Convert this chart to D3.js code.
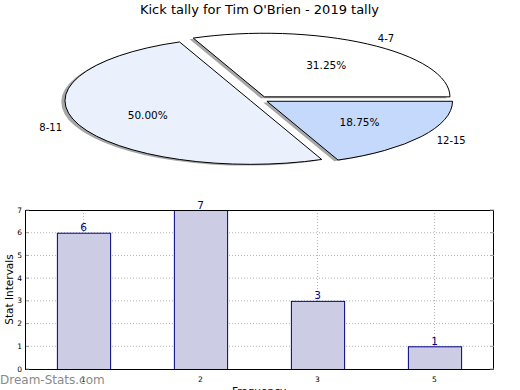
<!DOCTYPE html>
<html>
<head>
<meta charset="utf-8">
<script src="https://cdn.jsdelivr.net/npm/d3@7"></script>
<style>
  body { margin: 0; background: #fff; }
  svg { display: block; font-family: 'DejaVu Sans', sans-serif; }
</style>
</head>
<body>
<svg id="chart" width="520" height="390"></svg>
<script>
const title = "Kick tally for Tim O'Brien - 2019 tally";

// pie data
const pieLabels = ['4-7', '8-11', '12-15'];
const pieValues = [5, 8, 3];
const pieColors = ['#ffffff', '#eaf1fd', '#c5d9fd'];

// bar data
const barCategories = ['1', '2', '3', '5'];
const barValues = [6, 7, 3, 1];
const yTicks = [0, 1, 2, 3, 4, 5, 6, 7];

const svg = d3.select('#chart');

svg.append('text')
  .attr('x', 259.5)
  .attr('y', 14)
  .attr('text-anchor', 'middle')
  .attr('font-size', '13px')
  .attr('fill', '#000')
  .text(title);

// ---- pie (ellipse, exploded, with shadow) ----
const pieC = { x: 259.2, y: 99.5, rx: 185.6, ry: 63.6 };
const explode = 0.05;

const pie = d3.pie()
  .sort(null)
  .startAngle(Math.PI / 2)
  .endAngle(Math.PI / 2 - 2 * Math.PI);
const arcs = pie(pieValues);
const unitArc = d3.arc().innerRadius(0).outerRadius(1);
const total = d3.sum(pieValues);

const centerOf = (a) => {
  const m = (a.startAngle + a.endAngle) / 2;
  return {
    m,
    x: pieC.x + explode * pieC.rx * Math.sin(m),
    y: pieC.y - explode * pieC.ry * Math.cos(m),
  };
};

const pieG = svg.append('g');

// shadows first, under every wedge
arcs.forEach((a) => {
  const c = centerOf(a);
  pieG.append('path')
    .attr('d', unitArc(a))
    .attr('transform', `translate(${c.x - 0.02 * pieC.rx},${c.y + 0.02 * pieC.ry}) scale(${pieC.rx},${pieC.ry})`)
    .attr('fill', '#4d4d4d')
    .attr('fill-opacity', 0.5)
    .attr('stroke', 'none');
});

arcs.forEach((a, i) => {
  const c = centerOf(a);
  pieG.append('path')
    .attr('d', unitArc(a))
    .attr('transform', `translate(${c.x},${c.y}) scale(${pieC.rx},${pieC.ry})`)
    .attr('fill', pieColors[i])
    .attr('stroke', '#000')
    .attr('stroke-width', 1)
    .attr('vector-effect', 'non-scaling-stroke')
    .attr('stroke-linejoin', 'miter');
});

arcs.forEach((a, i) => {
  const c = centerOf(a);
  const sx = Math.sin(c.m);
  const sy = -Math.cos(c.m);
  pieG.append('text')
    .attr('x', c.x + 1.1 * pieC.rx * sx)
    .attr('y', c.y + 1.1 * pieC.ry * sy)
    .attr('dy', '0.35em')
    .attr('text-anchor', sx > 0 ? 'start' : 'end')
    .attr('font-size', '10px')
    .text(pieLabels[i]);
  pieG.append('text')
    .attr('x', c.x + 0.6 * pieC.rx * sx)
    .attr('y', c.y + 0.6 * pieC.ry * sy)
    .attr('dy', '0.35em')
    .attr('text-anchor', 'middle')
    .attr('font-size', '10.5px')
    .text(`${(pieValues[i] / total * 100).toFixed(2)}%`);
});

// ---- bar chart ----
const plot = { left: 25, right: 493, top: 210, bottom: 369 };

const x = d3.scaleBand()
  .domain(barCategories)
  .range([plot.left, plot.right])
  .paddingInner(0.545)
  .paddingOuter(0.2725);
const y = d3.scaleLinear()
  .domain([0, 7])
  .range([plot.bottom, plot.top]);

const g = svg.append('g');

// grid
g.selectAll('line.hgrid')
  .data(yTicks.slice(1, -1))
  .join('line')
  .attr('x1', plot.left).attr('x2', plot.right)
  .attr('y1', d => y(d)).attr('y2', d => y(d))
  .attr('stroke', '#b5b5b5')
  .attr('stroke-width', 1)
  .attr('stroke-dasharray', '1,2');
g.selectAll('line.vgrid')
  .data(barCategories)
  .join('line')
  .attr('x1', d => x(d) + x.bandwidth() / 2).attr('x2', d => x(d) + x.bandwidth() / 2)
  .attr('y1', plot.top).attr('y2', plot.bottom)
  .attr('stroke', '#b5b5b5')
  .attr('stroke-width', 1)
  .attr('stroke-dasharray', '1,2');

// bars
g.selectAll('rect.bar')
  .data(barValues)
  .join('rect')
  .attr('x', (d, i) => x(barCategories[i]) + 0.5)
  .attr('y', d => y(d) + 0.5)
  .attr('width', x.bandwidth())
  .attr('height', d => y(0) - y(d))
  .attr('fill', '#ccccE5')
  .attr('stroke', '#000080')
  .attr('stroke-width', 1);

g.selectAll('text.val')
  .data(barValues)
  .join('text')
  .attr('x', (d, i) => x(barCategories[i]) + x.bandwidth() / 2)
  .attr('y', d => y(d) - 1.5)
  .attr('text-anchor', 'middle')
  .attr('font-size', '10.5px')
  .attr('fill', '#000080')
  .text(d => d);

// frame
g.append('rect')
  .attr('x', plot.left + 0.5)
  .attr('y', plot.top + 0.5)
  .attr('width', plot.right - plot.left)
  .attr('height', plot.bottom - plot.top)
  .attr('fill', 'none')
  .attr('stroke', '#000')
  .attr('stroke-width', 1);

// ticks
yTicks.forEach((t) => {
  g.append('line')
    .attr('x1', plot.left + 1).attr('x2', plot.left + 4)
    .attr('y1', y(t)).attr('y2', y(t))
    .attr('stroke', '#999');
  g.append('line')
    .attr('x1', plot.right - 3).attr('x2', plot.right + 1)
    .attr('y1', y(t)).attr('y2', y(t))
    .attr('stroke', '#999');
  g.append('text')
    .attr('x', plot.left - 3)
    .attr('y', y(t))
    .attr('dy', '0.35em')
    .attr('text-anchor', 'end')
    .attr('font-size', '7.5px')
    .text(t);
});
barCategories.forEach((c) => {
  const cx = x(c) + x.bandwidth() / 2;
  g.append('text')
    .attr('x', cx)
    .attr('y', plot.bottom + 13)
    .attr('text-anchor', 'middle')
    .attr('font-size', '7.5px')
    .text(c);
});

svg.append('text')
  .attr('transform', `translate(13,${(plot.top + plot.bottom) / 2}) rotate(-90)`)
  .attr('text-anchor', 'middle')
  .attr('font-size', '10.5px')
  .text('Stat Intervals');

svg.append('text')
  .attr('x', (plot.left + plot.right) / 2)
  .attr('y', 395)
  .attr('text-anchor', 'middle')
  .attr('font-size', '10.5px')
  .text('Frequency');

// watermark
svg.append('text')
  .attr('x', 0)
  .attr('y', 384)
  .attr('font-size', '12px')
  .attr('fill', '#8a8a8a')
  .text('Dream-Stats.com');
</script>
</body>
</html>
